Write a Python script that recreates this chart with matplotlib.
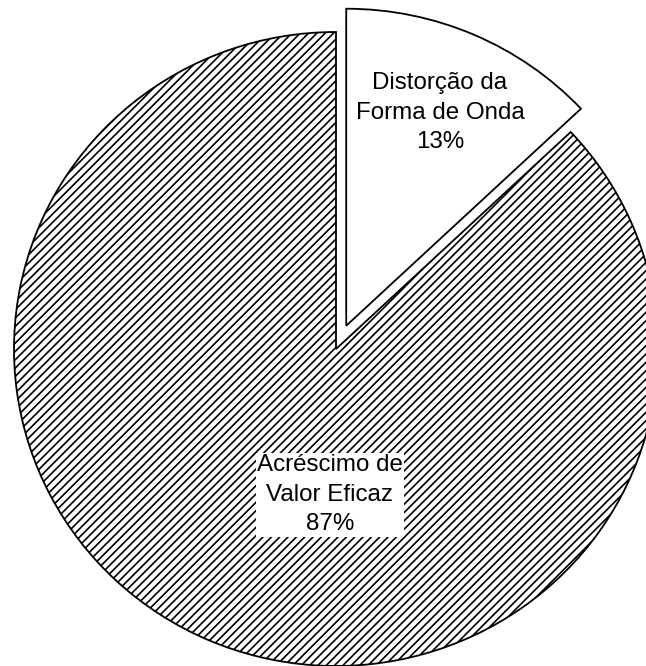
import matplotlib

matplotlib.use("Agg")
import matplotlib.pyplot as plt

labels = ["Distorção da\nForma de Onda", "Acréscimo de\nValor Eficaz"]
values = [13, 87]
explode = [0.08, 0.0]
hatches = ["", "////"]
# label centres in data units (radius-1 pie centred at the origin)
label_xy = [(0.323, 0.745), (-0.019, -0.46)]

plt.rcParams.update({
    "font.family": ["Liberation Sans", "DejaVu Sans"],
    "hatch.linewidth": 1.2,
    "hatch.color": "black",
})

fig = plt.figure(figsize=(6.46, 6.66), dpi=100)
ax = fig.add_axes([0, 0, 1, 1])

wedges, _ = ax.pie(values, explode=explode, startangle=90, counterclock=False,
                   colors=["white", "white"],
                   wedgeprops=dict(edgecolor="black", linewidth=1.3))
for w, h in zip(wedges, hatches):
    w.set_hatch(h)

total = sum(values)
for (x, y), lab, v, w in zip(label_xy, labels, values, wedges):
    bbox = None
    if w.get_hatch():
        bbox = dict(boxstyle="square,pad=0.05", facecolor="white", edgecolor="none")
    ax.text(x, y, f"{lab}\n{v / total * 100:.0f}%", ha="center", va="center",
            fontsize=17.4, linespacing=1.45, bbox=bbox)

# slightly wider than tall, centre at (336, 349) px
sx, sy = 322.0, 317.0
ax.set_aspect("auto")
ax.set_xlim(-336 / sx, (646 - 336) / sx)
ax.set_ylim(-(666 - 349) / sy, 349 / sy)
ax.axis("off")

fig.savefig("out.png", dpi=100)
plt.close(fig)
